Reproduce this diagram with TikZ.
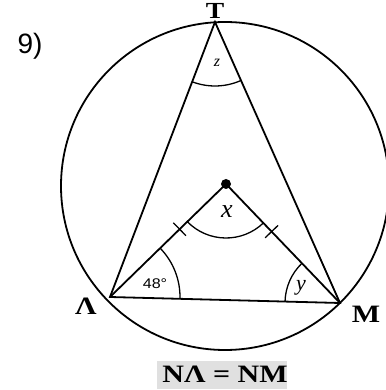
\documentclass[tikz,border=0pt]{standalone}
\usepackage{fontspec}
\setmainfont{Liberation Serif}
\newfontfamily\labelsans{Liberation Sans}
\usetikzlibrary{calc,angles}

\begin{document}
\begin{tikzpicture}[
		x=1pt, y=1pt,
		line width=1.8pt,
		vertexlabel/.style={
			font=\fontsize{25}{25}\selectfont\bfseries,
			inner sep=0pt,
			xscale=1.2
		},
		anglelabel/.style={font=\fontsize{17}{17}\selectfont\itshape, inner sep=0pt},
		anglearc/.style={draw, line width=1.3pt},
		tickmark/.style={line width=1.3pt}
	]
	\useasboundingbox (0,0) rectangle (385,390);

	% circle and points
	\coordinate (O) at (225,204);
	\coordinate (T) at (215,368);
	\coordinate (L) at (110,93);
	\coordinate (M) at (340,87);
	\coordinate (N) at (226,206);
	\draw (O) circle[radius=164];

	% triangles
	\draw (L) -- (T) -- (M) -- cycle;
	\draw (L) -- (N) -- (M);
	\fill (N) circle[radius=5];

	% equal sides
	\coordinate (tickL) at ($(N)!0.4!(L)$);
	\coordinate (tickM) at ($(N)!0.4!(M)$);
	\draw[tickmark] ($(tickL)!9pt!90:(L)$) -- ($(tickL)!9pt!-90:(L)$);
	\draw[tickmark] ($(tickM)!9pt!90:(M)$) -- ($(tickM)!9pt!-90:(M)$);

	% angles
	\pic[anglearc, angle radius=64pt] {angle = L--T--M};
	\pic[anglearc, angle radius=54pt] {angle = L--N--M};
	\pic[anglearc, angle radius=70pt] {angle = M--L--N};
	\pic[anglearc, angle radius=55pt] {angle = N--M--L};

	\node[anglelabel, font=\fontsize{16}{16}\selectfont\itshape] (labelz) at (217,327) {z};
	\node[anglelabel, font=\fontsize{26}{26}\selectfont\itshape] (labelx) at (227,178) {x};
	\node[inner sep=0pt, font=\labelsans\fontsize{14}{14}\selectfont, xscale=1.15] (labelL) at (155,106) {48°};
	\node[anglelabel, font=\fontsize{22}{22}\selectfont\itshape] (labely) at (301,102) {y};

	% labels
	\node[font=\labelsans\fontsize{28}{28}\selectfont, inner sep=0pt] (number) at (30,344) {9)};
	\node[vertexlabel, anchor=base, font=\fontsize{23}{23}\selectfont\bfseries] (nameT) at (215,371) {T};
	\node[vertexlabel] (nameL) at (86,84) {Λ};
	\node[vertexlabel] (nameM) at (366,76) {M};
	\node[fill=black!12, minimum width=130pt, minimum height=28pt, inner sep=0pt,
		anchor=south] (equal) at (222,0) {};
	\node[vertexlabel] (equaltext) at (225,16) {NΛ = NM};
\end{tikzpicture}
\end{document}
